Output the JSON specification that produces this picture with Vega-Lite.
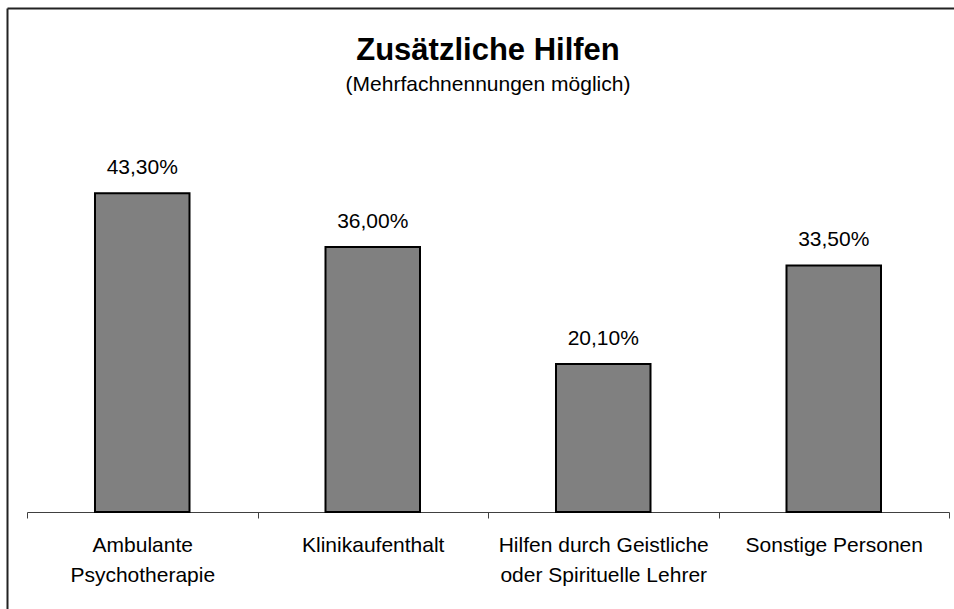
{
  "$schema": "https://vega.github.io/schema/vega-lite/v6.json",
  "autosize": {"type": "none"},
  "padding": {"left": 7, "top": 8, "right": 0, "bottom": 0},
  "width": 947,
  "height": 601,
  "background": "white",
  "config": {
    "view": {"stroke": null},
    "locale": {"number": {"decimal": ",", "thousands": ".", "grouping": [3], "currency": ["", " €"]}}
  },
  "title": {
    "text": "Zusätzliche Hilfen",
    "subtitle": "(Mehrfachnennungen möglich)",
    "font": "Liberation Sans",
    "fontSize": 31,
    "fontWeight": "bold",
    "color": "black",
    "subtitleFont": "Liberation Sans",
    "subtitleFontSize": 21,
    "subtitleColor": "black",
    "subtitlePadding": 7,
    "anchor": "middle",
    "offset": -88,
    "dx": 7.5
  },
  "data": {
    "values": [
      {"kategorie": "Ambulante|Psychotherapie", "anteil": 0.433},
      {"kategorie": "Klinikaufenthalt", "anteil": 0.36},
      {"kategorie": "Hilfen durch Geistliche|oder Spirituelle Lehrer", "anteil": 0.201},
      {"kategorie": "Sonstige Personen", "anteil": 0.335}
    ]
  },
  "resolve": {"scale": {"x": "independent"}, "axis": {"x": "independent"}},
  "layer": [
    {
      "encoding": {
        "x": {
          "field": "kategorie",
          "type": "nominal",
          "sort": null,
          "scale": {"range": [20, 942], "paddingInner": 0, "paddingOuter": 0},
          "axis": {
            "title": null,
            "orient": "bottom",
            "offset": -97,
            "tickBand": "extent",
            "tickSize": 6,
            "tickColor": "#404040",
            "domainColor": "#404040",
            "labelAngle": 0,
            "labelExpr": "split(datum.label, '|')",
            "labelFont": "Liberation Sans",
            "labelFontSize": 21,
            "labelColor": "black",
            "labelLineHeight": 30,
            "labelPadding": 16,
            "labelLimit": 500
          }
        },
        "y": {
          "field": "anteil",
          "type": "quantitative",
          "scale": {"domain": [-0.13179, 0.68478], "nice": false, "zero": false},
          "axis": {
            "orient": "left",
            "title": null,
            "labels": false,
            "ticks": false,
            "grid": false,
            "domain": true,
            "domainColor": "#222222",
            "domainWidth": 2
          }
        }
      },
      "layer": [
        {
          "mark": {"type": "bar", "width": {"band": 0.41}, "fill": "#808080", "stroke": "#000000", "strokeWidth": 2},
          "encoding": {"y2": {"datum": 0}}
        },
        {
          "mark": {"type": "text", "dy": -19, "baseline": "alphabetic", "font": "Liberation Sans", "fontSize": 21, "color": "black"},
          "encoding": {"text": {"field": "anteil", "type": "quantitative", "format": ".2%"}}
        }
      ]
    },
    {
      "mark": {"type": "point", "opacity": 0},
      "encoding": {
        "x": {
          "field": "anteil",
          "type": "quantitative",
          "scale": {"domain": [0, 1], "nice": false},
          "axis": {
            "orient": "top",
            "title": null,
            "labels": false,
            "ticks": false,
            "grid": false,
            "domain": true,
            "domainColor": "#222222",
            "domainWidth": 2
          }
        }
      }
    }
  ]
}
